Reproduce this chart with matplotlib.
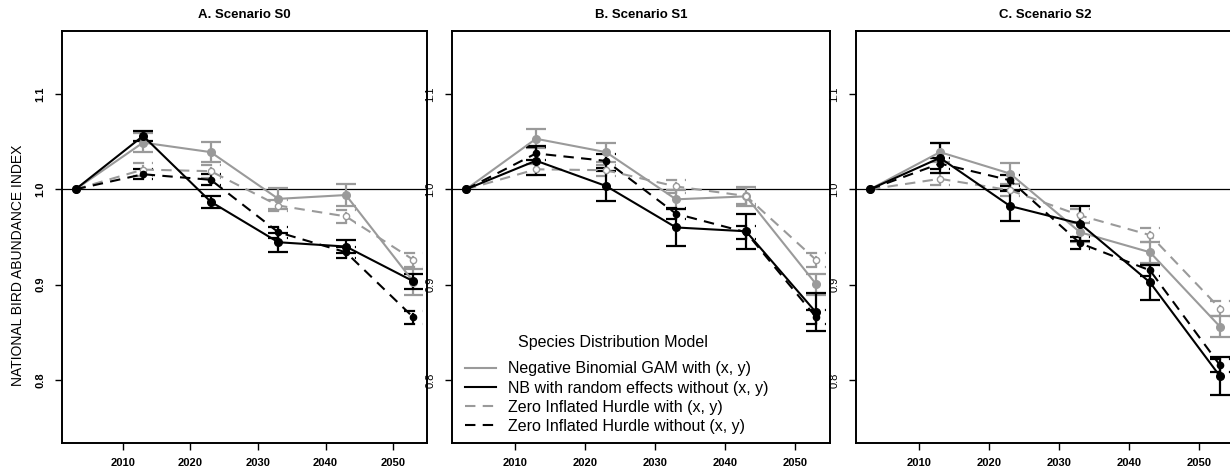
import numpy as np
import matplotlib
matplotlib.use("Agg")
import matplotlib.pyplot as plt
from matplotlib.lines import Line2D

plt.rcParams['font.family'] = ['Liberation Sans', 'DejaVu Sans']

years = [2003, 2013, 2023, 2033, 2043, 2053]
titles = ["A. Scenario S0", "B. Scenario S1", "C. Scenario S2"]
labels = ["Negative Binomial GAM with (x, y)",
          "NB with random effects without (x, y)",
          "Zero Inflated Hurdle with (x, y)",
          "Zero Inflated Hurdle without (x, y)"]

# scenario S0
gam_s0 = [1.0, 1.049, 1.039, 0.990, 0.994, 0.903]
gam_s0_err = [0, 0.010, 0.0105, 0.011, 0.012, 0.0135]
nbre_s0 = [1.0, 1.056, 0.987, 0.9445, 0.940, 0.9035]
nbre_s0_err = [0, 0.005, 0.0065, 0.010, 0.0065, 0.008]
zih_xy_s0 = [1.0, 1.0207, 1.019, 0.983, 0.9716, 0.926]
zih_xy_s0_err = [0, 0.007, 0.007, 0.006, 0.007, 0.0075]
zih_s0 = [1.0, 1.0158, 1.010, 0.955, 0.934, 0.8656]
zih_s0_err = [0, 0.005, 0.006, 0.006, 0.006, 0.007]

# scenario S1
gam_s1 = [1.0, 1.053, 1.039, 0.9895, 0.9926, 0.9007]
gam_s1_err = [0, 0.010, 0.010, 0.010, 0.010, 0.011]
nbre_s1 = [1.0, 1.030, 1.0035, 0.960, 0.956, 0.871]
nbre_s1_err = [0, 0.015, 0.016, 0.019, 0.0185, 0.020]
zih_xy_s1 = [1.0, 1.021, 1.020, 1.003, 0.993, 0.926]
zih_xy_s1_err = [0, 0.006, 0.006, 0.007, 0.008, 0.0077]
zih_s1 = [1.0, 1.0376, 1.0298, 0.9744, 0.955, 0.866]
zih_s1_err = [0, 0.007, 0.007, 0.006, 0.007, 0.0075]

# scenario S2
gam_s2 = [1.0, 1.039, 1.0165, 0.955, 0.934, 0.856]
gam_s2_err = [0, 0.010, 0.011, 0.010, 0.011, 0.011]
nbre_s2 = [1.0, 1.033, 0.9825, 0.964, 0.9024, 0.804]
nbre_s2_err = [0, 0.016, 0.016, 0.018, 0.018, 0.020]
zih_xy_s2 = [1.0, 1.011, 0.999, 0.9726, 0.952, 0.875]
zih_xy_s2_err = [0, 0.006, 0.006, 0.007, 0.007, 0.008]
zih_s2 = [1.0, 1.027, 1.0095, 0.9435, 0.915, 0.8155]
zih_s2_err = [0, 0.006, 0.006, 0.006, 0.006, 0.007]

scenarios = [
    [(gam_s0, gam_s0_err), (zih_xy_s0, zih_xy_s0_err), (nbre_s0, nbre_s0_err), (zih_s0, zih_s0_err)],
    [(gam_s1, gam_s1_err), (zih_xy_s1, zih_xy_s1_err), (nbre_s1, nbre_s1_err), (zih_s1, zih_s1_err)],
    [(gam_s2, gam_s2_err), (zih_xy_s2, zih_xy_s2_err), (nbre_s2, nbre_s2_err), (zih_s2, zih_s2_err)],
]

GRAY = "#9a9a9a"
# style per drawing order: gam, zih_xy, nbre, zih
styles = [
    dict(color=GRAY, dashed=False, mfc=GRAY, ms=5.5),
    dict(color=GRAY, dashed=True, mfc="white", ms=4.5),
    dict(color="black", dashed=False, mfc="black", ms=5.5),
    dict(color="black", dashed=True, mfc="black", ms=4.5),
]
DASH = (5, 3.5)
CAP = 1.45

fig = plt.figure(figsize=(12.3, 4.69), dpi=100)
W, H = 1230.0, 469.0
boxes = [(62, 365), (452, 378), (856, 378)]
top, bottom = 31, 443

axes = []
for i, (x0, w) in enumerate(boxes):
    ax = fig.add_axes([x0 / W, (H - bottom) / H, w / W, (bottom - top) / H])
    axes.append(ax)
    ax.axhline(1.0, color="black", lw=0.9, zorder=1)
    for (vals, errs), st in zip(scenarios[i], styles):
        x = np.array(years, dtype=float)
        y = np.array(vals)
        e = np.array(errs)
        ls = (0, DASH) if st["dashed"] else "-"
        m = e > 0
        ax.vlines(x[m], y[m] - e[m], y[m] + e[m], colors=st["color"], lw=1.6,
                  linestyles=ls, zorder=2)
        for sgn in (-1, 1):
            ax.hlines(y[m] + sgn * e[m], x[m] - CAP, x[m] + CAP, colors=st["color"],
                      lw=1.6, linestyles=ls, zorder=2)
        ax.plot(x, y, color=st["color"], lw=1.5, ls=ls, marker="o", ms=st["ms"],
                mfc=st["mfc"], mec=st["color"], mew=1.0, zorder=3)

    ax.set_xlim(2001, 2055)
    ax.set_ylim(0.734, 1.166)
    ax.set_xticks([2010, 2020, 2030, 2040, 2050])
    ax.set_yticks([0.8, 0.9, 1.0, 1.1])
    ax.set_yticklabels(["0.8", "0.9", "1.0", "1.1"], rotation=90, va="center",
                       fontsize=8, fontweight="bold" if i == 0 else "normal")
    for t in ax.get_xticklabels():
        t.set_fontweight("bold")
        t.set_fontsize(8)
    ax.tick_params(axis="both", direction="out", length=5, width=1.0)
    ax.tick_params(axis="x", pad=6)
    ax.tick_params(axis="y", pad=7)
    for s in ax.spines.values():
        s.set_linewidth(1.4)
    ax.set_title(titles[i], fontsize=9.5, fontweight="bold", pad=9)

fig.text(18 / W, 1 - 265 / H, "NATIONAL BIRD ABUNDANCE INDEX", rotation=90,
         ha="center", va="center", fontsize=10)

# legend in panel B
handles = [
    Line2D([], [], color=GRAY, lw=1.5),
    Line2D([], [], color="black", lw=1.5),
    Line2D([], [], color=GRAY, lw=1.5, ls=(0, DASH)),
    Line2D([], [], color="black", lw=1.5, ls=(0, DASH)),
]
axes[1].legend(handles, labels, loc="lower left", bbox_to_anchor=(0.035, 0.022),
               frameon=False, fontsize=11.5, handlelength=1.9, handletextpad=0.75,
               labelspacing=0.26, borderpad=0, borderaxespad=0)
axes[1].text(0.426, 0.245, "Species Distribution Model", transform=axes[1].transAxes,
             ha="center", va="center", fontsize=11.5)

fig.savefig("out.png", dpi=100)
